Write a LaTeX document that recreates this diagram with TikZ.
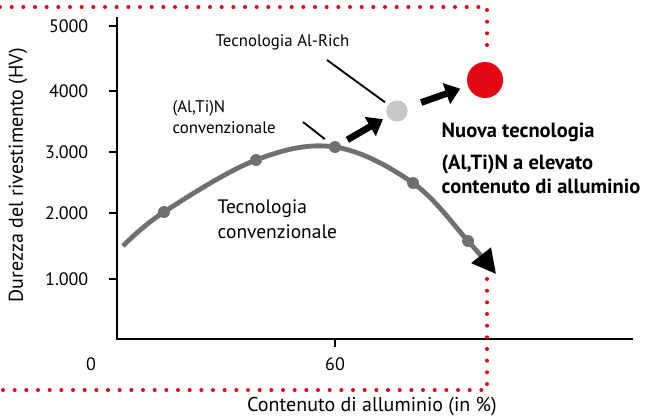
\documentclass[tikz,border=0pt]{standalone}
\usepackage{fontspec}
\setmainfont{PT Sans}
\usetikzlibrary{arrows.meta}
\definecolor{curvegray}{RGB}{112,112,112}
\definecolor{dotgray}{RGB}{200,200,200}
\definecolor{signalred}{RGB}{227,6,19}
\tikzset{
    reddots/.style={signalred, line width=3pt, line cap=round, dash pattern=on 0pt off 8.75pt},
    fatarrow/.style={line width=5pt, -{Triangle[length=11pt,width=16pt]}},
    leader/.style={line width=1.4pt},
    curvedot/.style={circle, fill=curvegray, inner sep=0pt, minimum size=9pt},
    smalltxt/.style={font=\fontsize{12.6}{15.5}\selectfont, align=left},
    ticktxt/.style={font=\fontsize{13.5}{16}\selectfont},
    axistxt/.style={font=\fontsize{15}{18}\selectfont},
}
\begin{document}
\begin{tikzpicture}[x=0.75pt,y=-0.75pt]
    \useasboundingbox (0,0) rectangle (645,418);
    % Axes
    \draw[line width=2pt] (117,17) -- (117,339) -- (633,339);
    \foreach \y/\t in {26/5000, 91/4000, 152/3.000, 213/2.000, 279/1.000} {
        \draw[line width=1pt] (109,\y) -- (117,\y);
        \node[ticktxt, anchor=east] (tick\y) at (93,\y) {\t};
    }
    \draw[line width=1pt] (335,339) -- (335,347);
    \node[ticktxt] (xzero) at (91,364) {0};
    \node[ticktxt] (xsixty) at (335,364) {60};
    \node[axistxt, rotate=90] (ylabel) at (18,175) {Durezza del rivestimento (HV)};
    \node[axistxt] (xlabel) at (372,407) {Contenuto di alluminio (in \%)};
    % Red frame
    \draw[reddots] (0,7) -- (487,7) -- (487,55);
    \draw[reddots] (487,279) -- (487,390) -- (0,390);
    % Conventional curve
    \draw[curvegray, line width=3.6pt, -{Triangle[length=18pt,width=18pt,black]}]
        plot[smooth, tension=0.6] coordinates {(123,246) (164,212) (256,160) (335,147) (413,183) (468,241) (496,274)};
    \foreach \x/\y/\n in {164/212/1, 256/160/2, 335/147/3, 413/183/4, 468/241/5} {
        \node[curvedot] (d\n) at (\x,\y) {};
    }
    % Al-Rich and new technology
    \node[circle, fill=dotgray, inner sep=0pt, minimum size=16pt] (alrich) at (397,111) {};
    \node[circle, fill=signalred, inner sep=0pt, minimum size=27pt] (newtech) at (485,80) {};
    \draw[fatarrow, shorten <=6pt, shorten >=4pt] (d3) -- (alrich);
    \draw[fatarrow, shorten <=11pt, shorten >=6pt] (alrich) -- (newtech);
    % Labels
    \node[smalltxt, anchor=west] (alrichlbl) at (211,42) {Tecnologia Al-Rich};
    \coordinate (alrichend) at (327,60);
    \draw[leader, shorten >=3pt] (alrichend) -- (alrich);
    \node[smalltxt, anchor=west] (convlbl) at (168,117) {(Al,Ti)N\\convenzionale};
    \coordinate (convend) at (303,122);
    \draw[leader, shorten >=5pt] (convend) -- (d3);
    \node[font=\fontsize{14.6}{19}\selectfont, align=left, anchor=west] (curvelbl) at (213,219) {Tecnologia\\convenzionale};
    \node[font=\fontsize{15.4}{17.5}\selectfont\bfseries, align=left, anchor=west] (newlbl) at (437,158)
        {Nuova tecnologia\\[7pt](Al,Ti)N a elevato\\contenuto di alluminio};
\end{tikzpicture}
\end{document}
